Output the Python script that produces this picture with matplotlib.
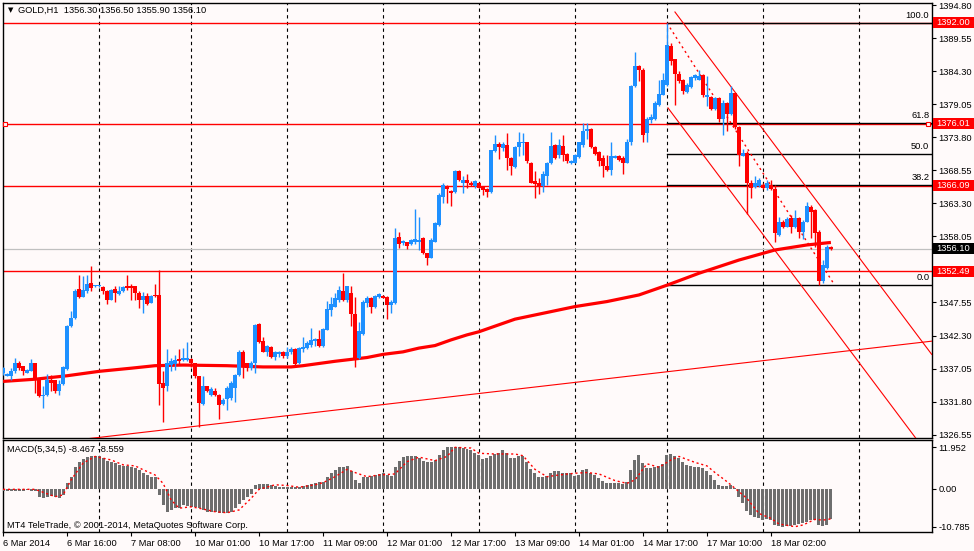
import matplotlib
matplotlib.use('Agg')
import matplotlib.pyplot as plt
import numpy as np
from matplotlib.patches import Rectangle
from matplotlib.transforms import blended_transform_factory

plt.rcParams['font.family'] = ['Liberation Sans', 'DejaVu Sans']

# GOLD H1 candles, bar index 0 = 6 Mar 2014 00:00
opens = [
    1336.3, 1335.9, 1335.9, 1336.6, 1338.0, 1337.4, 1336.4, 1336.7, 1337.9, 1335.5,
    1332.7, 1332.9, 1335.2, 1335.2, 1333.5, 1334.6, 1337.0, 1343.8, 1345.1, 1349.7,
    1348.5, 1349.3, 1350.7, 1350.1, 1350.1, 1350.0, 1349.3, 1348.0, 1349.7, 1348.9,
    1349.3, 1350.2, 1350.1, 1350.1, 1349.1, 1348.0, 1348.6, 1347.4, 1348.8, 1348.8,
    1334.8, 1334.2, 1337.6, 1337.8, 1338.5, 1338.4, 1338.4, 1338.5, 1337.9, 1335.8,
    1331.4, 1334.2, 1332.9, 1333.5, 1332.9, 1331.4, 1332.2, 1332.3, 1333.9, 1336.0,
    1339.6, 1337.9, 1337.1, 1338.0, 1344.2, 1341.4, 1339.7, 1340.5, 1338.9, 1339.3,
    1339.6, 1339.0, 1339.6, 1340.1, 1337.9, 1340.1, 1340.3, 1340.8, 1341.5, 1341.7,
    1340.6, 1343.2, 1346.4, 1346.9, 1348.0, 1349.4, 1348.0, 1349.1, 1345.7, 1338.8,
    1342.5, 1347.4, 1348.2, 1346.8, 1348.4, 1348.6, 1348.5, 1347.2, 1347.4, 1357.9,
    1357.0, 1357.1, 1356.9, 1357.1, 1357.2, 1357.8, 1355.4, 1354.7, 1357.2, 1359.9,
    1364.4, 1366.1, 1365.3, 1365.2, 1368.4, 1366.5, 1367.0, 1366.6, 1366.0, 1366.5,
    1366.0, 1365.6, 1365.2, 1371.7, 1372.8, 1372.1, 1372.6, 1370.6, 1369.1, 1372.2,
    1372.9, 1373.1, 1369.8, 1366.9, 1366.5, 1366.0, 1367.7, 1369.7, 1372.6, 1371.0,
    1372.4, 1371.2, 1369.8, 1369.8, 1370.7, 1372.6, 1374.9, 1375.2, 1372.2, 1371.5,
    1370.5, 1369.3, 1368.6, 1370.6, 1370.8, 1370.5, 1369.8, 1373.1, 1382.0, 1385.2,
    1384.6, 1374.5, 1376.6, 1376.7, 1379.0, 1380.6, 1382.1, 1388.3, 1386.2, 1383.9,
    1383.0, 1381.1, 1381.9, 1383.2, 1383.0, 1383.7, 1380.3, 1380.3, 1378.4, 1380.0,
    1376.7, 1379.2, 1377.6, 1380.8, 1375.5, 1370.9, 1371.3, 1366.5, 1365.9, 1366.1,
    1366.2, 1365.7, 1366.2, 1365.6, 1358.3, 1360.4, 1359.6, 1361.0, 1359.6, 1361.0,
    1358.8, 1360.4, 1362.8, 1362.3, 1358.8, 1350.9, 1353.0, 1356.3]
highs = [
    1337.3, 1336.3, 1337.1, 1338.7, 1338.2, 1337.5, 1336.9, 1338.6, 1338.0, 1335.6,
    1334.2, 1336.1, 1336.0, 1335.3, 1335.2, 1337.5, 1344.0, 1346.2, 1349.7, 1351.9,
    1351.7, 1351.9, 1353.3, 1350.4, 1350.3, 1350.1, 1349.6, 1349.7, 1350.1, 1350.2,
    1350.1, 1351.9, 1350.5, 1350.2, 1349.3, 1349.2, 1349.1, 1348.8, 1350.5, 1352.7,
    1336.6, 1340.1, 1338.7, 1339.2, 1340.1, 1340.3, 1341.3, 1338.7, 1338.0, 1335.9,
    1335.8, 1334.3, 1334.1, 1333.9, 1333.0, 1332.3, 1334.2, 1335.0, 1336.2, 1340.0,
    1340.0, 1338.0, 1338.3, 1344.2, 1344.3, 1342.1, 1340.8, 1340.6, 1339.8, 1339.8,
    1339.8, 1340.4, 1340.5, 1340.3, 1340.5, 1342.1, 1341.4, 1343.5, 1341.9, 1343.2,
    1343.5, 1347.8, 1348.5, 1349.0, 1350.1, 1352.3, 1350.2, 1350.1, 1348.5, 1344.5,
    1348.0, 1348.6, 1348.5, 1348.8, 1349.1, 1348.8, 1348.6, 1348.0, 1359.4, 1358.8,
    1357.5, 1357.2, 1357.6, 1362.4, 1361.2, 1358.0, 1355.5, 1357.8, 1360.4, 1365.0,
    1366.5, 1366.3, 1365.5, 1368.6, 1368.6, 1367.6, 1368.0, 1366.8, 1367.0, 1366.7,
    1366.1, 1365.7, 1371.8, 1374.2, 1373.1, 1373.1, 1374.5, 1370.7, 1372.4, 1374.7,
    1374.5, 1373.1, 1369.9, 1368.4, 1367.3, 1368.4, 1369.9, 1374.7, 1372.8, 1373.5,
    1374.2, 1371.3, 1370.2, 1371.2, 1373.1, 1376.1, 1376.1, 1375.3, 1372.4, 1371.7,
    1371.0, 1371.0, 1373.1, 1371.0, 1371.0, 1370.8, 1373.5, 1382.1, 1387.4, 1385.3,
    1384.8, 1377.0, 1377.5, 1379.6, 1382.9, 1384.1, 1392.0, 1388.8, 1386.3, 1384.3,
    1383.1, 1382.5, 1383.6, 1383.9, 1384.6, 1383.9, 1383.6, 1380.4, 1380.3, 1380.2,
    1379.8, 1379.5, 1382.0, 1380.9, 1375.6, 1371.9, 1371.6, 1367.0, 1367.7, 1367.3,
    1366.5, 1367.0, 1367.1, 1366.2, 1361.2, 1360.7, 1361.2, 1361.5, 1362.2, 1361.2,
    1360.7, 1363.6, 1363.1, 1362.4, 1359.1, 1354.3, 1356.7, 1356.5]
lows = [
    1336.0, 1335.8, 1335.2, 1336.4, 1336.8, 1336.0, 1336.3, 1336.6, 1333.2, 1332.5,
    1330.8, 1332.6, 1333.4, 1333.1, 1332.9, 1334.5, 1336.8, 1343.7, 1345.0, 1348.2,
    1348.4, 1349.0, 1349.3, 1350.0, 1350.0, 1348.9, 1347.3, 1347.9, 1347.7, 1348.8,
    1349.2, 1349.6, 1348.0, 1348.0, 1346.6, 1345.9, 1347.2, 1347.4, 1348.5, 1331.2,
    1328.6, 1333.5, 1336.6, 1336.8, 1337.7, 1338.3, 1338.3, 1337.3, 1335.5, 1327.8,
    1331.2, 1333.3, 1332.7, 1332.6, 1329.0, 1331.2, 1330.5, 1332.0, 1331.8, 1335.8,
    1335.5, 1336.6, 1336.8, 1336.4, 1341.1, 1339.6, 1339.1, 1338.7, 1338.4, 1338.9,
    1338.7, 1338.7, 1339.4, 1337.6, 1337.7, 1339.7, 1340.1, 1340.5, 1340.6, 1340.5,
    1340.5, 1343.1, 1345.4, 1346.8, 1347.7, 1347.8, 1347.7, 1343.8, 1337.3, 1338.6,
    1342.4, 1346.8, 1345.8, 1346.6, 1348.2, 1348.2, 1345.0, 1345.8, 1347.3, 1356.2,
    1356.7, 1356.0, 1356.7, 1356.9, 1355.9, 1355.3, 1353.5, 1354.6, 1357.1, 1359.7,
    1363.3, 1363.3, 1362.9, 1365.0, 1366.8, 1365.0, 1365.7, 1366.0, 1365.8, 1365.7,
    1364.7, 1364.4, 1364.9, 1371.5, 1370.3, 1371.7, 1368.7, 1367.8, 1369.0, 1370.9,
    1371.0, 1369.8, 1366.5, 1364.1, 1364.8, 1365.2, 1366.2, 1369.6, 1370.3, 1370.5,
    1370.0, 1369.8, 1369.6, 1369.7, 1370.6, 1372.3, 1373.5, 1372.1, 1371.0, 1369.2,
    1367.5, 1368.4, 1367.8, 1370.5, 1370.0, 1368.0, 1369.7, 1372.6, 1381.9, 1382.7,
    1373.0, 1373.0, 1376.1, 1376.6, 1378.8, 1380.5, 1382.0, 1385.3, 1379.0, 1382.4,
    1380.7, 1380.8, 1381.6, 1382.9, 1382.9, 1380.3, 1378.8, 1378.2, 1378.2, 1376.3,
    1374.2, 1374.9, 1377.4, 1375.2, 1369.2, 1370.8, 1361.7, 1364.1, 1365.7, 1365.9,
    1365.6, 1365.5, 1365.5, 1357.2, 1358.1, 1359.4, 1359.5, 1358.6, 1359.4, 1357.8,
    1357.6, 1360.3, 1357.8, 1356.4, 1350.3, 1350.7, 1352.8, 1355.9]
closes = [
    1337.1, 1336.1, 1336.6, 1337.9, 1337.2, 1336.6, 1336.8, 1337.9, 1335.2, 1332.6,
    1332.9, 1335.2, 1334.8, 1333.5, 1334.6, 1337.3, 1343.8, 1345.1, 1349.4, 1348.4,
    1349.6, 1350.5, 1349.8, 1350.3, 1350.2, 1349.3, 1348.0, 1349.6, 1349.1, 1349.4,
    1350.0, 1349.9, 1349.8, 1349.0, 1348.0, 1348.6, 1347.3, 1348.6, 1348.6, 1334.6,
    1334.0, 1337.9, 1338.2, 1338.4, 1338.3, 1338.8, 1338.7, 1337.9, 1335.8, 1331.6,
    1334.2, 1333.5, 1333.8, 1332.9, 1331.3, 1332.1, 1333.9, 1334.8, 1336.0, 1339.7,
    1337.4, 1337.1, 1338.0, 1344.0, 1341.2, 1339.7, 1340.6, 1338.9, 1339.6, 1339.6,
    1339.0, 1339.7, 1340.1, 1337.8, 1340.3, 1340.4, 1341.1, 1341.6, 1341.7, 1340.7,
    1343.3, 1346.5, 1347.3, 1348.3, 1349.6, 1348.0, 1350.1, 1345.7, 1338.8, 1343.0,
    1347.7, 1348.2, 1346.8, 1348.6, 1348.9, 1348.3, 1347.2, 1347.7, 1357.8, 1356.9,
    1357.3, 1356.5, 1357.5, 1357.6, 1357.5, 1355.4, 1354.6, 1357.5, 1360.2, 1364.7,
    1366.2, 1365.6, 1365.0, 1368.4, 1367.0, 1367.0, 1366.6, 1366.2, 1366.8, 1365.8,
    1365.5, 1365.2, 1371.8, 1372.8, 1372.2, 1372.8, 1370.6, 1369.3, 1372.2, 1373.0,
    1373.1, 1370.0, 1366.6, 1366.4, 1366.0, 1368.0, 1369.8, 1372.4, 1370.5, 1372.6,
    1371.0, 1370.0, 1370.1, 1371.0, 1373.0, 1374.9, 1375.1, 1372.2, 1371.2, 1370.1,
    1369.2, 1368.6, 1370.9, 1370.9, 1370.2, 1369.8, 1373.1, 1382.0, 1385.2, 1384.6,
    1374.2, 1376.8, 1377.1, 1379.2, 1380.7, 1382.9, 1388.5, 1385.9, 1383.9, 1382.7,
    1381.2, 1382.2, 1383.4, 1383.7, 1383.6, 1380.6, 1380.6, 1378.4, 1380.0, 1376.7,
    1379.2, 1377.6, 1380.8, 1375.5, 1371.0, 1371.3, 1366.5, 1365.7, 1366.5, 1367.0,
    1365.7, 1366.5, 1365.6, 1358.6, 1360.4, 1359.5, 1360.8, 1359.6, 1361.0, 1358.8,
    1360.4, 1362.9, 1362.0, 1358.6, 1350.9, 1353.5, 1356.4, 1356.1]

# moving average read at a few bars
ma_bars = [0, 8, 16, 24, 32, 38, 45, 56, 65, 72, 75, 83, 91, 95, 100, 104, 108, 112,
           116, 119, 128, 134, 143, 151, 159, 166, 174, 184, 193, 201, 207]
ma_vals = [1335.0, 1335.35, 1335.9, 1336.6, 1337.1, 1337.5, 1337.6, 1337.5, 1337.3, 1337.3,
           1337.5, 1338.2, 1338.8, 1339.3, 1339.7, 1340.3, 1340.7, 1341.6, 1342.4, 1342.9,
           1344.9, 1345.7, 1346.9, 1347.7, 1348.75, 1350.3, 1352.2, 1354.3, 1355.9, 1356.7,
           1357.1]

# MACD(5,34,5) histogram and signal
macd = [
    -0.5, -0.6, -0.6, -0.6, -0.5, -0.5, -0.4, -0.5, -0.6, -2.2,
    -2.7, -2.2, -2.0, -2.2, -2.7, -1.7, 1.6, 3.5, 6.4, 7.7,
    8.5, 9.1, 9.5, 9.5, 9.3, 8.8, 8.1, 7.8, 7.4, 6.9,
    6.6, 6.6, 6.4, 5.9, 5.5, 4.7, 4.0, 3.5, 3.3, -1.7,
    -4.6, -6.5, -6.0, -5.5, -5.3, -4.6, -4.9, -5.1, -5.1, -5.5,
    -6.0, -6.7, -6.7, -6.7, -6.8, -7.0, -6.8, -6.5, -5.5, -4.3,
    -3.2, -2.2, -1.4, 1.2, 1.4, 1.4, 1.4, 1.2, 0.9, 0.7,
    0.5, 0.7, 0.5, 0.5, 0.7, 0.9, 1.1, 1.4, 1.6, 1.9,
    2.1, 3.4, 4.5, 5.5, 6.2, 6.4, 6.6, 5.0, 2.6, 1.8,
    3.4, 3.5, 3.7, 4.0, 4.3, 4.5, 4.0, 3.8, 6.4, 8.1,
    9.1, 9.5, 9.5, 9.3, 8.8, 8.1, 7.6, 7.8, 8.3, 9.8,
    11.2, 11.9, 11.9, 11.952, 11.9, 11.7, 11.4, 11.0, 10.4, 9.8,
    8.5, 8.8, 9.5, 10.0, 10.4, 11.0, 10.2, 8.8, 8.8, 9.3,
    9.3, 7.8, 5.6, 4.5, 3.4, 3.4, 3.7, 4.7, 5.0, 5.0,
    4.7, 4.7, 4.5, 3.7, 4.0, 5.3, 5.6, 4.7, 4.0, 3.1,
    2.4, 1.6, 1.6, 1.6, 1.6, 1.4, 2.1, 5.3, 8.3, 9.75,
    7.5, 5.9, 5.9, 6.2, 6.6, 7.2, 9.75, 10.0, 9.5, 8.8,
    7.6, 6.9, 6.6, 6.2, 6.2, 5.9, 5.0, 4.0, 2.6, 1.2,
    0.9, 0.9, 1.2, 0.2, -2.4, -3.9, -6.2, -7.4, -8.1, -8.4,
    -8.9, -8.7, -8.9, -10.3, -10.6, -10.785, -10.7, -10.6, -10.3, -10.0,
    -9.8, -9.3, -8.9, -8.9, -10.3, -10.7, -10.2, -8.467]
sig_bars = [0, 8, 13, 15, 17, 20, 23, 27, 30, 33, 35, 38, 40, 42, 44, 47, 49, 53, 56, 59,
            62, 64, 68, 71, 74, 78, 80, 83, 86, 88, 91, 94, 98, 101, 104, 108, 111, 113, 117, 119,
            123, 128, 130, 133, 136, 139, 143, 146, 149, 153, 156, 158, 161, 164, 167, 169, 173, 176, 178, 181,
            183, 186, 189, 192, 194, 198, 200, 203, 205, 207]
sig_vals = [-0.1, -0.1, -2.2, -1.7, 2.6, 7.4, 9.3, 8.3, 6.9, 6.6, 5.5, 4.0, 1.6, -3.1, -5.5, -5.1, -5.5, -6.5, -6.8, -6.0,
            -2.7, -0.1, 1.2, 1.0, 0.5, 1.2, 1.8, 3.5, 5.6, 4.7, 3.5, 4.0, 4.3, 7.8, 9.1, 8.1, 9.3, 11.9, 11.7, 10.2,
            10.0, 10.0, 9.5, 5.6, 3.5, 4.0, 4.5, 4.7, 4.3, 2.4, 1.6, 2.6, 7.2, 6.2, 8.3, 9.3, 7.6, 6.6, 4.7, 2.1,
            0.2, -2.7, -7.0, -8.4, -10.0, -10.785, -10.3, -8.7, -8.9, -8.559]

# levels and drawn objects
red_levels = [1392.00, 1376.01, 1366.09, 1352.49]
bid = 1356.10
fib_start, fib_high, fib_low = 166, 1392.00, 1350.40
fib_ratios = [0.0, 38.2, 50.0, 61.8, 100.0]
chan_upper = [(168, 1393.75), (232.2, 1339.3)]
chan_lower = [(166.25, 1378.5), (232.2, 1322.6)]
trend_up = [(20, 1325.8), (232.2, 1341.4)]
fib_trend = [(166, 1392.0), (207.75, 1350.5)]
grid_bars = [24, 47, 71, 95, 119, 143, 166, 190, 214]
price_ticks = [1394.80, 1389.55, 1384.30, 1379.05, 1373.80, 1368.55, 1363.30, 1358.05,
               1347.55, 1342.30, 1337.05, 1331.80, 1326.55]
date_bars = [0, 16, 32, 48, 64, 80, 96, 112, 128, 144, 160, 176, 192]
date_labels = ['6 Mar 2014', '6 Mar 16:00', '7 Mar 08:00', '10 Mar 01:00', '10 Mar 17:00',
               '11 Mar 09:00', '12 Mar 01:00', '12 Mar 17:00', '13 Mar 09:00', '14 Mar 01:00',
               '14 Mar 17:00', '17 Mar 10:00', '18 Mar 02:00']

W, H = 974, 551
bg = '#fffafa'
fs = 6.7
fig = plt.figure(figsize=(W / 100, H / 100), dpi=100, facecolor=bg)
ax = fig.add_axes([2.7 / W, 1 - 438 / H, 929 / W, 435.5 / H], facecolor=bg)
ax2 = fig.add_axes([2.7 / W, 1 - 532 / H, 929 / W, 92 / H], facecolor=bg)

xlim = (-0.1, 232.2)
ax.set_xlim(*xlim)
ax.set_ylim(1326.0, 1395.26)
ax2.set_xlim(*xlim)
ax2.set_ylim(-12.3, 14.0)

for a in (ax, ax2):
    for s in a.spines.values():
        s.set_color('black')
        s.set_linewidth(1.0)
    for g in grid_bars:
        a.axvline(g, color='black', lw=0.8, ls=(0, (3, 3)), zorder=1)

# horizontal levels
ax.axhline(bid, color='#c0c0c0', lw=0.9, zorder=1)
for lv in red_levels:
    ax.axhline(lv, color='red', lw=1.0, zorder=2)

# fibonacci
for r in fib_ratios:
    lv = fib_low + (fib_high - fib_low) * r / 100
    ax.plot([fib_start, xlim[1]], [lv, lv], color='black', lw=1.0, zorder=2)
    ax.text(xlim[1] - 0.6, lv + 0.45, '%.1f' % r, ha='right', va='bottom', fontsize=fs)
ax.plot(*zip(*fib_trend), color='red', lw=1.0, ls=(0, (1.5, 2.5)), zorder=3)

# channel and trend lines
for ln in (chan_upper, chan_lower, trend_up):
    ax.plot(*zip(*ln), color='red', lw=0.8, zorder=3)

# moving average
ax.plot(ma_bars, ma_vals, color='red', lw=2.3, zorder=4, solid_capstyle='butt')

# candles
idx = np.arange(len(closes))
o = np.array(opens); c = np.array(closes)
cols = np.where(c >= o, '#1e90ff', '#ff0000')
ax.vlines(idx, lows, highs, colors=cols, lw=1.0, zorder=5)
body = np.maximum(np.abs(c - o), 0.16)
ax.bar(idx, body, bottom=np.minimum(o, c), width=0.8, color=cols, lw=0, zorder=6)

# selection markers on 1376.01 line
ax.plot([0.6, 231.3], [1376.01, 1376.01], ls='none', marker='s', ms=3.2,
        mfc=bg, mec='red', mew=0.8, zorder=7, clip_on=False)

# right price axis
ax.yaxis.tick_right()
ax.set_yticks(price_ticks)
ax.set_yticklabels(['%.2f' % p for p in price_ticks], fontsize=fs)
ax.tick_params(axis='y', length=3, width=0.8, pad=2)
ax.set_xticks([])

tr = blended_transform_factory(fig.transFigure, ax.transData)
half = 5.5 * (ax.get_ylim()[1] - ax.get_ylim()[0]) / 435.5
for lv, fc in [(p, 'red') for p in red_levels] + [(bid, 'black')]:
    fig.add_artist(Rectangle((932.5 / W, lv - half), 41 / W, 2 * half, transform=tr,
                             facecolor=fc, edgecolor='none', zorder=10))
    fig.text(953 / W, lv, '%.2f' % lv, transform=tr, ha='center', va='center',
             color='white', fontsize=fs, zorder=11)

# MACD panel
ax2.bar(np.arange(len(macd)), macd, width=0.75, color='#6e6e6e', lw=0, zorder=3)
ax2.plot(sig_bars, sig_vals, color='red', lw=1.0, ls=(0, (1.5, 2)), zorder=4)
ax2.yaxis.tick_right()
ax2.set_yticks([11.952, 0.0, -10.785])
ax2.set_yticklabels(['11.952', '0.00', '-10.785'], fontsize=fs)
ax2.tick_params(axis='y', length=3, width=0.8, pad=2)
ax2.set_xticks(date_bars)
ax2.set_xticklabels(date_labels, fontsize=fs, ha='left')
ax2.tick_params(axis='x', length=3, width=0.8, pad=2)

# texts
fig.text(8 / W, 1 - 10.5 / H, '\u25bc', fontsize=5, va='center', family='DejaVu Sans')
fig.text(18 / W, 1 - 10 / H, 'GOLD,H1  1356.30 1356.50 1355.90 1356.10', fontsize=fs, va='center')
fig.text(7 / W, 1 - 450 / H, 'MACD(5,34,5) -8.467 -8.559', fontsize=fs, va='center')
fig.text(7 / W, 1 - 525 / H, 'MT4 TeleTrade, \u00a9 2001-2014, MetaQuotes Software Corp.',
         fontsize=fs, va='center')

fig.savefig('out.png', dpi=100, facecolor=bg)
